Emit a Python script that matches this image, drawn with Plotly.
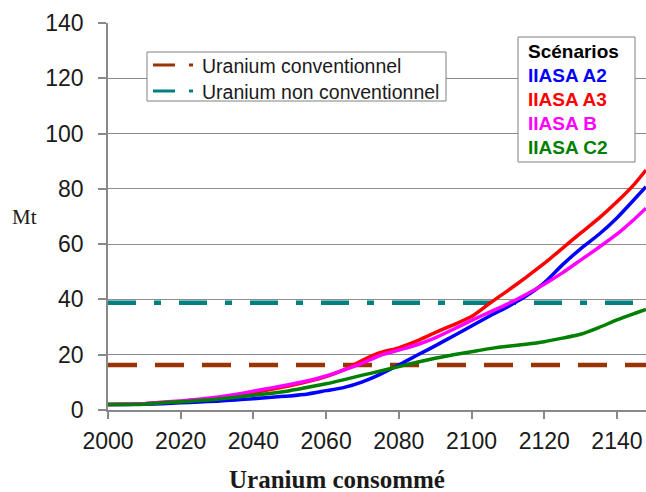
import plotly.graph_objects as go

# Cumulative uranium consumption (Mt) per IIASA scenario
years = [2000, 2005, 2010, 2015, 2020, 2025, 2030, 2035, 2040, 2045, 2050,
         2055, 2060, 2065, 2070, 2075, 2080, 2085, 2090, 2095, 2100, 2105,
         2110, 2115, 2120, 2125, 2130, 2135, 2140, 2145, 2148]

iiasa_a2 = [2.0, 2.0, 2.1, 2.3, 2.6, 2.9, 3.2, 3.6, 4.1, 4.6, 5.1,
            5.8, 7.0, 8.2, 10.2, 13.0, 16.3, 19.8, 23.2, 26.8, 30.4, 34.0,
            37.4, 41.2, 46.0, 52.5, 58.3, 63.5, 69.5, 76.5, 80.8]
iiasa_a3 = [2.0, 2.1, 2.3, 2.7, 3.1, 3.6, 4.2, 5.1, 6.3, 7.5, 8.8,
            10.3, 12.1, 14.6, 18.0, 20.8, 22.5, 25.0, 28.0, 30.8, 33.8, 38.6,
            43.2, 48.0, 53.0, 58.5, 64.0, 69.3, 75.3, 82.0, 86.8]
iiasa_b = [2.0, 2.1, 2.3, 2.8, 3.3, 3.9, 4.6, 5.6, 6.8, 8.0, 9.2,
           10.6, 12.3, 14.5, 17.0, 19.8, 21.7, 23.6, 26.1, 29.2, 32.4, 35.4,
           38.4, 41.8, 45.5, 49.6, 54.2, 58.8, 63.6, 69.3, 73.0]
iiasa_c2 = [2.0, 2.0, 2.1, 2.6, 3.0, 3.4, 3.9, 4.6, 5.3, 6.1, 7.0,
            8.2, 9.5, 11.0, 12.6, 14.1, 15.7, 17.3, 18.7, 20.0, 21.1, 22.2,
            23.1, 23.8, 24.7, 26.0, 27.4, 29.8, 32.6, 35.0, 36.4]

# Known resources (Mt)
resource_span = [2000, 2148]
conventional = 16.3
non_conventional = 38.8

scenario_names = ["IIASA A2", "IIASA A3", "IIASA B", "IIASA C2"]
scenario_colors = ["#0000FF", "#FF0000", "#FF00FF", "#008000"]
scenario_values = [iiasa_a2, iiasa_a3, iiasa_b, iiasa_c2]

x_ticks = [2000, 2020, 2040, 2060, 2080, 2100, 2120, 2140]
y_ticks = [0, 20, 40, 60, 80, 100, 120, 140]

BROWN = "#993300"
TEAL = "#008080"
SANS = "Liberation Sans, Arial, sans-serif"
SERIF = "Liberation Serif, Times New Roman, serif"

W, H = 646, 492
L, R, T, B = 108, 646, 23, 410


def px(x):
    return (x - L) / (R - L)


def py(y):
    return (B - y) / (B - T)


fig = go.Figure()

fig.add_trace(go.Scatter(
    x=resource_span, y=[conventional] * 2, mode="lines",
    line=dict(color=BROWN, width=4.5, dash="29px,18px"),
    hoverinfo="skip", showlegend=False))
fig.add_trace(go.Scatter(
    x=resource_span, y=[non_conventional] * 2, mode="lines",
    line=dict(color=TEAL, width=4.5, dash="28px,18px,7px,18px"),
    hoverinfo="skip", showlegend=False))

for name, color, vals in zip(scenario_names, scenario_colors, scenario_values):
    fig.add_trace(go.Scatter(
        x=years, y=vals, mode="lines", name=name,
        line=dict(color=color, width=3.5, shape="spline", smoothing=0.6),
        showlegend=False))

shapes = [
    # resources legend box
    dict(type="rect", xref="paper", yref="paper",
         x0=px(147), x1=px(446), y0=py(101), y1=py(52),
         fillcolor="white", line=dict(color="#808080", width=1), layer="above"),
    dict(type="line", xref="paper", yref="paper",
         x0=px(153), x1=px(175), y0=py(65), y1=py(65),
         line=dict(color=BROWN, width=3), layer="above"),
    dict(type="line", xref="paper", yref="paper",
         x0=px(189), x1=px(193), y0=py(65), y1=py(65),
         line=dict(color=BROWN, width=3), layer="above"),
    dict(type="line", xref="paper", yref="paper",
         x0=px(153), x1=px(175), y0=py(91), y1=py(91),
         line=dict(color=TEAL, width=3), layer="above"),
    dict(type="line", xref="paper", yref="paper",
         x0=px(189), x1=px(193), y0=py(91), y1=py(91),
         line=dict(color=TEAL, width=3), layer="above"),
    # scenario legend box
    dict(type="rect", xref="paper", yref="paper",
         x0=px(518), x1=px(635), y0=py(162), y1=py(37),
         fillcolor="white", line=dict(color="#808080", width=1), layer="above"),
]

annotations = [
    dict(text="Uranium conventionnel", x=px(200), y=py(66), xref="paper", yref="paper",
         xanchor="left", yanchor="middle", showarrow=False,
         font=dict(family=SANS, size=19.5, color="#1a1a1a")),
    dict(text="Uranium non conventionnel", x=px(200), y=py(92), xref="paper", yref="paper",
         xanchor="left", yanchor="middle", showarrow=False,
         font=dict(family=SANS, size=19.5, color="#1a1a1a")),
    dict(text="<b>Scénarios</b>", x=px(526), y=py(52), xref="paper", yref="paper",
         xanchor="left", yanchor="middle", showarrow=False,
         font=dict(family=SANS, size=19, color="#000000")),
]
for i, (name, color) in enumerate(zip(scenario_names, scenario_colors)):
    annotations.append(dict(
        text=f"<b>{name}</b>", x=px(526), y=py(76 + 24 * i), xref="paper", yref="paper",
        xanchor="left", yanchor="middle", showarrow=False,
        font=dict(family=SANS, size=19, color=color)))

annotations += [
    dict(text="Mt", x=px(24), y=py(217), xref="paper", yref="paper",
         xanchor="center", yanchor="middle", showarrow=False,
         font=dict(family=SERIF, size=21, color="#1a1a1a")),
    dict(text="<b>Uranium consommé</b>", x=px(337), y=py(479), xref="paper", yref="paper",
         xanchor="center", yanchor="middle", showarrow=False,
         font=dict(family=SERIF, size=25, color="#1a1a1a")),
]

fig.update_layout(
    width=W, height=H,
    margin=dict(l=L, r=W - R, t=T, b=H - B, pad=0),
    paper_bgcolor="white", plot_bgcolor="white",
    shapes=shapes, annotations=annotations,
    showlegend=False,
    xaxis=dict(range=[2000, 2148], tickvals=x_ticks, showgrid=False,
               showline=True, linecolor="#888888", linewidth=1.5,
               ticks="outside", ticklen=7, tickcolor="#888888", tickwidth=1.5,
               ticklabelstandoff=3,
               tickfont=dict(family=SANS, size=23, color="#1a1a1a"),
               zeroline=False, fixedrange=True),
    yaxis=dict(range=[0, 140], tickvals=y_ticks, showgrid=True,
               gridcolor="#8c8c8c", gridwidth=1,
               showline=True, linecolor="#888888", linewidth=1.5,
               ticks="outside", ticklen=8, tickcolor="#888888", tickwidth=1.5,
               ticklabelstandoff=10,
               tickfont=dict(family=SANS, size=23, color="#1a1a1a"),
               zeroline=False, fixedrange=True),
)

fig.write_html("out.html")
